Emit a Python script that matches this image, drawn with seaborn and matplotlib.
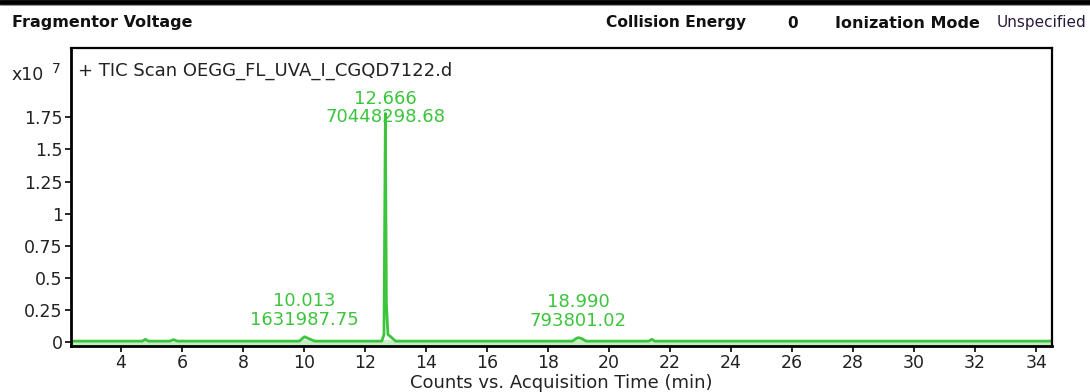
import matplotlib
matplotlib.use("Agg")
import matplotlib.pyplot as plt
import seaborn as sns
import pandas as pd
from matplotlib.lines import Line2D

# ---- data (x10^7 counts) ----
time_min = [2.40, 4.70, 4.80, 4.90, 5.60, 5.72, 5.85, 9.85, 9.95, 10.013, 10.15, 10.35,
            12.55, 12.62, 12.666, 12.70, 12.75, 12.85, 13.00, 18.80, 18.92, 18.99, 19.10,
            19.25, 21.30, 21.40, 21.50, 34.50]
counts_e7 = [0.008, 0.008, 0.022, 0.008, 0.008, 0.020, 0.008, 0.008, 0.030, 0.042, 0.028, 0.008,
             0.008, 0.060, 1.780, 0.300, 0.060, 0.040, 0.008, 0.008, 0.028, 0.035, 0.028,
             0.008, 0.008, 0.022, 0.008, 0.008]
peak_rt = ["12.666", "10.013", "18.990"]
peak_area = ["70448298.68", "1631987.75", "793801.02"]
peak_x = [12.666, 10.013, 18.990]
peak_y = [1.78, 0.04, 0.035]
xticks = [4, 6, 8, 10, 12, 14, 16, 18, 20, 22, 24, 26, 28, 30, 32, 34]
yticks = [0, 0.25, 0.5, 0.75, 1, 1.25, 1.5, 1.75]
ytick_labels = ["0", "0.25", "0.5", "0.75", "1", "1.25", "1.5", "1.75"]

sns.set_theme(style="white")
plt.rcParams['font.family'] = ['DejaVu Sans']

green = "#3dc43d"
txt = "#222222"
fig = plt.figure(figsize=(10.9, 3.92), dpi=100)
ax = fig.add_axes([71/1090, 1 - 346/392, (1052-71)/1090, (346-48)/392])

df = pd.DataFrame({"t": time_min, "c": counts_e7})
sns.lineplot(data=df, x="t", y="c", ax=ax, color=green, linewidth=2.0)
ax.fill_between(df["t"], -0.03, df["c"].clip(upper=0.02), color=green, alpha=0.3, linewidth=0)

ax.set_xlim(2.36, 34.52)
ax.set_ylim(-0.03, 2.29)
ax.set_xticks(xticks)
ax.set_xticklabels([str(v) for v in xticks])
ax.set_yticks(yticks)
ax.set_yticklabels(ytick_labels)
ax.tick_params(axis="both", which="major", direction="out", length=4, width=1.2,
               color="black", labelsize=12.5, labelcolor=txt, pad=2,
               bottom=True, left=True)
for side, sp in ax.spines.items():
    sp.set_color("black")
    sp.set_linewidth(2.0 if side in ("left", "bottom") else 1.6)
ax.set_xlabel("Counts vs. Acquisition Time (min)", fontsize=13, color=txt, labelpad=1)
ax.set_ylabel("")

# peak annotations
label_offsets_pt = [4, 19, 19]
for i in range(len(peak_rt)):
    ax.annotate(peak_rt[i] + "\n" + peak_area[i], xy=(peak_x[i], peak_y[i]),
                xytext=(0, label_offsets_pt[i]), textcoords="offset points",
                ha="center", va="center", color=green, fontsize=13, linespacing=1.05)

ax.text(0.007, 0.955, "+ TIC Scan OEGG_FL_UVA_I_CGQD7122.d", transform=ax.transAxes,
        ha="left", va="top", fontsize=13, color=txt)
fig.text(12/1090, 1 - 75/392, "x10", fontsize=12.5, color=txt, ha="left", va="center")
fig.text(52/1090, 1 - 69/392, "7", fontsize=10, color=txt, ha="left", va="center")

# header
fig.add_artist(Line2D([0, 1], [1 - 2/392, 1 - 2/392], color="black", linewidth=3.5))
fig.add_artist(Line2D([0, 1], [1 - 5/392, 1 - 5/392], color="#999999", linewidth=0.8))
hdr_y = 1 - 23/392
hdr = dict(family="DejaVu Sans", ha="left", va="center")
fig.text(12/1090, hdr_y, "Fragmentor Voltage", fontsize=11.5, fontweight="bold", color="#111111", **hdr)
fig.text(606/1090, hdr_y, "Collision Energy", fontsize=11.2, fontweight="bold", color="#111111", **hdr)
fig.text(787/1090, hdr_y, "0", fontsize=11, fontweight="bold", color="#111111", **hdr)
fig.text(835/1090, hdr_y, "Ionization Mode", fontsize=11.5, fontweight="bold", color="#111111", **hdr)
fig.text(997/1090, hdr_y, "Unspecified", fontsize=11, color="#2a1a3a", **hdr)

fig.savefig("out.png", dpi=100, facecolor="white")
